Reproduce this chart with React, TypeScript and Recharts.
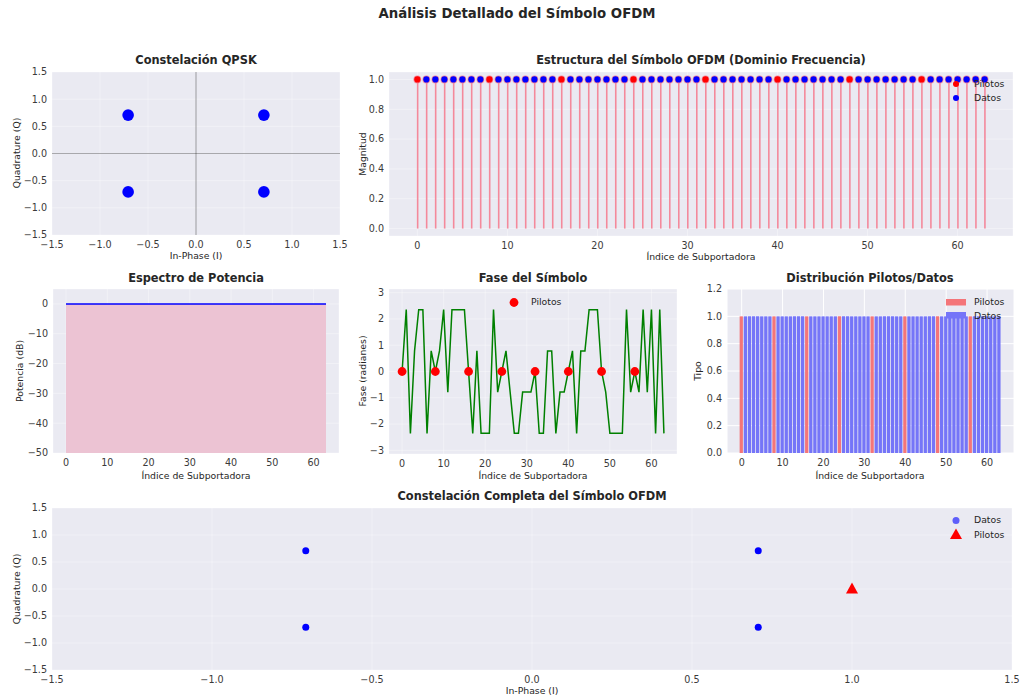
import React from "react";
import {
  ComposedChart,
  ScatterChart,
  Scatter,
  XAxis,
  YAxis,
  CartesianGrid,
  Bar,
  Line,
  Area,
  ReferenceLine,
} from "recharts";

const FONT = "'DejaVu Sans', Verdana, sans-serif";

// ---------------- data ----------------
const subcarrierIdx = [
  0, 1, 2, 3, 4, 5, 6, 7, 8, 9, 10, 11, 12, 13, 14, 15, 16, 17, 18, 19, 20, 21,
  22, 23, 24, 25, 26, 27, 28, 29, 30, 31, 32, 33, 34, 35, 36, 37, 38, 39, 40,
  41, 42, 43, 44, 45, 46, 47, 48, 49, 50, 51, 52, 53, 54, 55, 56, 57, 58, 59,
  60, 61, 62, 63,
];
const pilotIdx = [0, 8, 16, 24, 32, 40, 48, 56];
const magnitude = [
  1, 1, 1, 1, 1, 1, 1, 1, 1, 1, 1, 1, 1, 1, 1, 1, 1, 1, 1, 1, 1, 1, 1, 1, 1, 1,
  1, 1, 1, 1, 1, 1, 1, 1, 1, 1, 1, 1, 1, 1, 1, 1, 1, 1, 1, 1, 1, 1, 1, 1, 1, 1,
  1, 1, 1, 1, 1, 1, 1, 1, 1, 1, 1, 1,
];
const powerDb = [
  0, 0, 0, 0, 0, 0, 0, 0, 0, 0, 0, 0, 0, 0, 0, 0, 0, 0, 0, 0, 0, 0, 0, 0, 0, 0,
  0, 0, 0, 0, 0, 0, 0, 0, 0, 0, 0, 0, 0, 0, 0, 0, 0, 0, 0, 0, 0, 0, 0, 0, 0, 0,
  0, 0, 0, 0, 0, 0, 0, 0, 0, 0, 0, 0,
];
const phaseRad = [
  0, 2.356, -2.356, 0.785, 2.356, 2.356, -2.356, 0.785, 0, 0.785, 2.356, -0.785,
  2.356, 2.356, 2.356, 2.356, 0, -2.356, 0.785, -2.356, -2.356, -2.356, 2.356,
  -0.785, 0, 0.785, -0.785, -2.356, -2.356, -0.785, -0.785, -0.785, 0, -2.356,
  -2.356, 0.785, 0.785, -2.356, -0.785, -0.785, 0, 0.785, -2.356, 0.785, 0.785,
  2.356, 2.356, 2.356, 0, -0.785, -2.356, -2.356, -2.356, -2.356, 2.356, -0.785,
  0, -0.785, 2.356, -0.785, 2.356, -2.356, 2.356, -2.356,
];
const qpskI = [-0.707, 0.707, -0.707, 0.707];
const qpskQ = [0.707, 0.707, -0.707, -0.707];
const pilotSymI = [1.0];
const pilotSymQ = [0.0];

const ticksConst = [-1.5, -1.0, -0.5, 0, 0.5, 1.0, 1.5];
const ticksSub = [0, 10, 20, 30, 40, 50, 60];
const ticksMag = [0, 0.2, 0.4, 0.6, 0.8, 1.0];
const ticksPow = [-50, -40, -30, -20, -10, 0];
const ticksPhase = [-3, -2, -1, 0, 1, 2, 3];
const ticksTipo = [0, 0.2, 0.4, 0.6, 0.8, 1.0, 1.2];

// ---------------- derived rows ----------------
const subRows = subcarrierIdx.map((k, i) => {
  const isPilot = pilotIdx.includes(k);
  return {
    k,
    mag: magnitude[i],
    pow: powerDb[i],
    phase: phaseRad[i],
    pilot: isPilot ? 1 : 0,
    dato: isPilot ? 0 : 1,
  };
});
const pilotRows = subRows.filter((r) => r.pilot === 1);
const dataRows = subRows.filter((r) => r.pilot === 0);
const qpskRows = qpskI.map((v, i) => ({ i: v, q: qpskQ[i] }));
const pilotSymRows = pilotSymI.map((v, i) => ({ i: v, q: pilotSymQ[i] }));

// ---------------- helpers ----------------
const fmt = (d: number) => (v: number) => {
  const s = Math.abs(v).toFixed(d);
  return v < -1e-9 ? "\u2212" + s : s;
};

const PAD = { l: 50, t: 12, r: 12, b: 30 };
const TICK = { fontSize: 9.6, fill: "#3a3a3a", fontFamily: FONT };
const BG = "#eaeaf2";

type Rect = { x: number; y: number; w: number; h: number };

function dims(r: Rect) {
  return {
    width: r.w + PAD.l + PAD.r,
    height: r.h + PAD.t + PAD.b,
    margin: { top: PAD.t, right: PAD.r, bottom: 0, left: 0 },
  };
}

function Place({ r, children }: { r: Rect; children: React.ReactNode }) {
  return (
    <div style={{ position: "absolute", left: r.x - PAD.l, top: r.y - PAD.t }}>
      {children}
    </div>
  );
}

function T({
  x,
  y,
  size = 9.3,
  bold = false,
  rot = false,
  left = false,
  children,
}: {
  x: number;
  y: number;
  size?: number;
  bold?: boolean;
  rot?: boolean;
  left?: boolean;
  children: React.ReactNode;
}) {
  return (
    <div
      style={{
        position: "absolute",
        left: x,
        top: y,
        transform: `translate(${left ? "0" : "-50%"},-50%)${rot ? " rotate(-90deg)" : ""}`,
        fontSize: size,
        fontWeight: bold ? 700 : 400,
        color: "#262626",
        whiteSpace: "nowrap",
        fontFamily: FONT,
        lineHeight: 1,
      }}
    >
      {children}
    </div>
  );
}

function xAxisProps(domain: number[], ticks: number[], dec: number, key = "k") {
  return {
    type: "number" as const,
    dataKey: key,
    domain,
    ticks,
    interval: 0 as const,
    allowDataOverflow: true,
    tickFormatter: fmt(dec),
    height: PAD.b,
    tickLine: false,
    axisLine: false,
    tickSize: 0,
    tickMargin: 6,
    tick: TICK,
  };
}
function yAxisProps(domain: number[], ticks: number[], dec: number, key?: string) {
  const p: any = {
    type: "number" as const,
    domain,
    ticks,
    interval: 0 as const,
    allowDataOverflow: true,
    tickFormatter: fmt(dec),
    width: PAD.l,
    tickLine: false,
    axisLine: false,
    tickSize: 0,
    tickMargin: 5,
    tick: TICK,
  };
  if (key) p.dataKey = key;
  return p;
}

const RA: Rect = { x: 52, y: 72, w: 288, h: 163 };
const RB: Rect = { x: 389, y: 72, w: 624, h: 164 };
const RC: Rect = { x: 53, y: 289, w: 286, h: 164 };
const RD: Rect = { x: 389, y: 289, w: 288, h: 165 };
const RE: Rect = { x: 727, y: 289, w: 287, h: 164 };
const RF: Rect = { x: 52, y: 508, w: 960, h: 162 };

const SUB_DOMAIN = [-3.15, 66.15];
const BAR_DOMAIN = [-3.59, 66.59];

const faintGrid = { fill: BG, stroke: "#ffffff", strokeOpacity: 0.45, strokeWidth: 0.8 };

export default function App() {
  const eBar = (0.8 * RE.w) / (BAR_DOMAIN[1] - BAR_DOMAIN[0]);
  return (
    <div
      style={{
        position: "absolute",
        left: 0,
        top: 0,
        width: 1022,
        height: 698,
        background: "#ffffff",
        fontFamily: FONT,
        overflow: "hidden",
      }}
    >
      <T x={517} y={14} size={13.3} bold>
        Análisis Detallado del Símbolo OFDM
      </T>

      {/* ---------- A: Constelación QPSK ---------- */}
      <T x={196} y={61} size={11.4} bold>
        Constelación QPSK
      </T>
      <Place r={RA}>
        <ScatterChart {...dims(RA)}>
          <CartesianGrid {...faintGrid} />
          <XAxis {...xAxisProps([-1.5, 1.5], ticksConst, 1, "i")} />
          <YAxis {...yAxisProps([-1.5, 1.5], ticksConst, 1, "q")} />
          <ReferenceLine x={0} stroke="#000" strokeOpacity={0.3} strokeWidth={1.2} />
          <ReferenceLine y={0} stroke="#000" strokeOpacity={0.3} strokeWidth={1.2} />
          <Scatter
            data={qpskRows}
            isAnimationActive={false}
            shape={(p: any) => <circle cx={p.cx} cy={p.cy} r={5.8} fill="#0000ff" />}
          />
        </ScatterChart>
      </Place>
      <T x={196} y={256}>In-Phase (I)</T>
      <T x={17} y={153} rot>
        Quadrature (Q)
      </T>

      {/* ---------- B: Estructura ---------- */}
      <T x={701} y={61} size={11.4} bold>
        Estructura del Símbolo OFDM (Dominio Frecuencia)
      </T>
      <Place r={RB}>
        <ComposedChart data={subRows} {...dims(RB)}>
          <CartesianGrid {...faintGrid} />
          <XAxis {...xAxisProps(SUB_DOMAIN, ticksSub, 0)} />
          <YAxis {...yAxisProps([-0.05, 1.05], ticksMag, 1)} />
          <Bar dataKey="mag" barSize={1.6} fill="#f4899b" isAnimationActive={false} />
          <Scatter
            data={pilotRows}
            dataKey="mag"
            isAnimationActive={false}
            shape={(p: any) => (
              <g>
                <circle cx={p.cx} cy={p.cy} r={3.9} fill="#f4899b" />
                <circle cx={p.cx} cy={p.cy} r={3.1} fill="#ff0000" />
              </g>
            )}
          />
          <Scatter
            data={dataRows}
            dataKey="mag"
            isAnimationActive={false}
            shape={(p: any) => (
              <g>
                <circle cx={p.cx} cy={p.cy} r={3.9} fill="#f4899b" />
                <circle cx={p.cx} cy={p.cy} r={3.1} fill="#0000ff" />
              </g>
            )}
          />
        </ComposedChart>
      </Place>
      <T x={701} y={257}>Índice de Subportadora</T>
      <T x={363} y={154} rot>
        Magnitud
      </T>
      <svg style={{ position: "absolute", left: 940, top: 76 }} width={30} height={30}>
        <circle cx={16} cy={8} r={3} fill="#ff0000" />
        <circle cx={16} cy={22} r={3} fill="#0000ff" />
      </svg>
      <T x={974} y={84} left>
        Pilotos
      </T>
      <T x={974} y={98} left>
        Datos
      </T>

      {/* ---------- C: Espectro ---------- */}
      <T x={196} y={279} size={11.4} bold>
        Espectro de Potencia
      </T>
      <Place r={RC}>
        <ComposedChart data={subRows} {...dims(RC)}>
          <CartesianGrid {...faintGrid} />
          <XAxis {...xAxisProps(SUB_DOMAIN, ticksSub, 0)} />
          <YAxis {...yAxisProps([-50, 5], ticksPow, 0)} />
          <Area
            type="linear"
            dataKey="pow"
            baseValue={-50}
            stroke="#0000ff"
            strokeWidth={1.5}
            fill="#ecc3d3"
            fillOpacity={1}
            dot={false}
            activeDot={false}
            isAnimationActive={false}
          />
        </ComposedChart>
      </Place>
      <T x={196} y={476}>Índice de Subportadora</T>
      <T x={20} y={371} rot>
        Potencia (dB)
      </T>

      {/* ---------- D: Fase ---------- */}
      <T x={533} y={279} size={11.4} bold>
        Fase del Símbolo
      </T>
      <Place r={RD}>
        <ComposedChart data={subRows} {...dims(RD)}>
          <CartesianGrid {...faintGrid} />
          <XAxis {...xAxisProps(SUB_DOMAIN, ticksSub, 0)} />
          <YAxis {...yAxisProps([-3.1416, 3.1416], ticksPhase, 0)} />
          <Line
            type="linear"
            dataKey="phase"
            stroke="#008000"
            strokeWidth={1.5}
            dot={false}
            activeDot={false}
            isAnimationActive={false}
          />
          <Scatter
            data={pilotRows}
            dataKey="phase"
            isAnimationActive={false}
            shape={(p: any) => <circle cx={p.cx} cy={p.cy} r={4.4} fill="#ff0000" />}
          />
        </ComposedChart>
      </Place>
      <T x={533} y={476}>Índice de Subportadora</T>
      <T x={363} y={371} rot>
        Fase (radianes)
      </T>
      <svg style={{ position: "absolute", left: 505, top: 293 }} width={20} height={20}>
        <circle cx={9} cy={9.5} r={4.4} fill="#ff0000" />
      </svg>
      <T x={531} y={302} left>
        Pilotos
      </T>

      {/* ---------- E: Distribución ---------- */}
      <T x={870} y={279} size={11.4} bold>
        Distribución Pilotos/Datos
      </T>
      <Place r={RE}>
        <ComposedChart data={subRows} {...dims(RE)}>
          <CartesianGrid fill={BG} stroke="#ffffff" strokeWidth={1} />
          <XAxis {...xAxisProps(BAR_DOMAIN, ticksSub, 0)} />
          <YAxis {...yAxisProps([0, 1.2], ticksTipo, 1)} />
          <Bar dataKey="pilot" stackId="t" barSize={eBar} fill="#f47579" isAnimationActive={false} />
          <Bar dataKey="dato" stackId="t" barSize={eBar} fill="#7575f8" isAnimationActive={false} />
        </ComposedChart>
      </Place>
      <T x={870} y={476}>Índice de Subportadora</T>
      <T x={698} y={371} rot>
        Tipo
      </T>
      <svg style={{ position: "absolute", left: 946, top: 298 }} width={22} height={22}>
        <rect x={0} y={1} width={20} height={6.5} fill="#f47579" />
        <rect x={0} y={14} width={20} height={6.5} fill="#7575f8" />
      </svg>
      <T x={974} y={302} left>
        Pilotos
      </T>
      <T x={974} y={316} left>
        Datos
      </T>

      {/* ---------- F: Constelación Completa ---------- */}
      <T x={532} y={497} size={11.4} bold>
        Constelación Completa del Símbolo OFDM
      </T>
      <Place r={RF}>
        <ScatterChart {...dims(RF)}>
          <CartesianGrid {...faintGrid} />
          <XAxis {...xAxisProps([-1.5, 1.5], ticksConst, 1, "i")} />
          <YAxis {...yAxisProps([-1.5, 1.5], ticksConst, 1, "q")} />
          <Scatter
            data={qpskRows}
            isAnimationActive={false}
            shape={(p: any) => <circle cx={p.cx} cy={p.cy} r={3.5} fill="#0000ff" />}
          />
          <Scatter
            data={pilotSymRows}
            isAnimationActive={false}
            shape={(p: any) => (
              <polygon
                points={`${p.cx},${p.cy - 6.5} ${p.cx - 6},${p.cy + 4.5} ${p.cx + 6},${p.cy + 4.5}`}
                fill="#ff0000"
              />
            )}
          />
        </ScatterChart>
      </Place>
      <T x={532} y={691}>In-Phase (I)</T>
      <T x={17} y={589} rot>
        Quadrature (Q)
      </T>
      <svg style={{ position: "absolute", left: 946, top: 512 }} width={22} height={32}>
        <circle cx={10} cy={8.5} r={3.5} fill="#0000ff" fillOpacity={0.6} />
        <polygon points="10,16.5 4,27 16,27" fill="#ff0000" />
      </svg>
      <T x={974} y={520} left>
        Datos
      </T>
      <T x={974} y={535} left>
        Pilotos
      </T>
    </div>
  );
}
